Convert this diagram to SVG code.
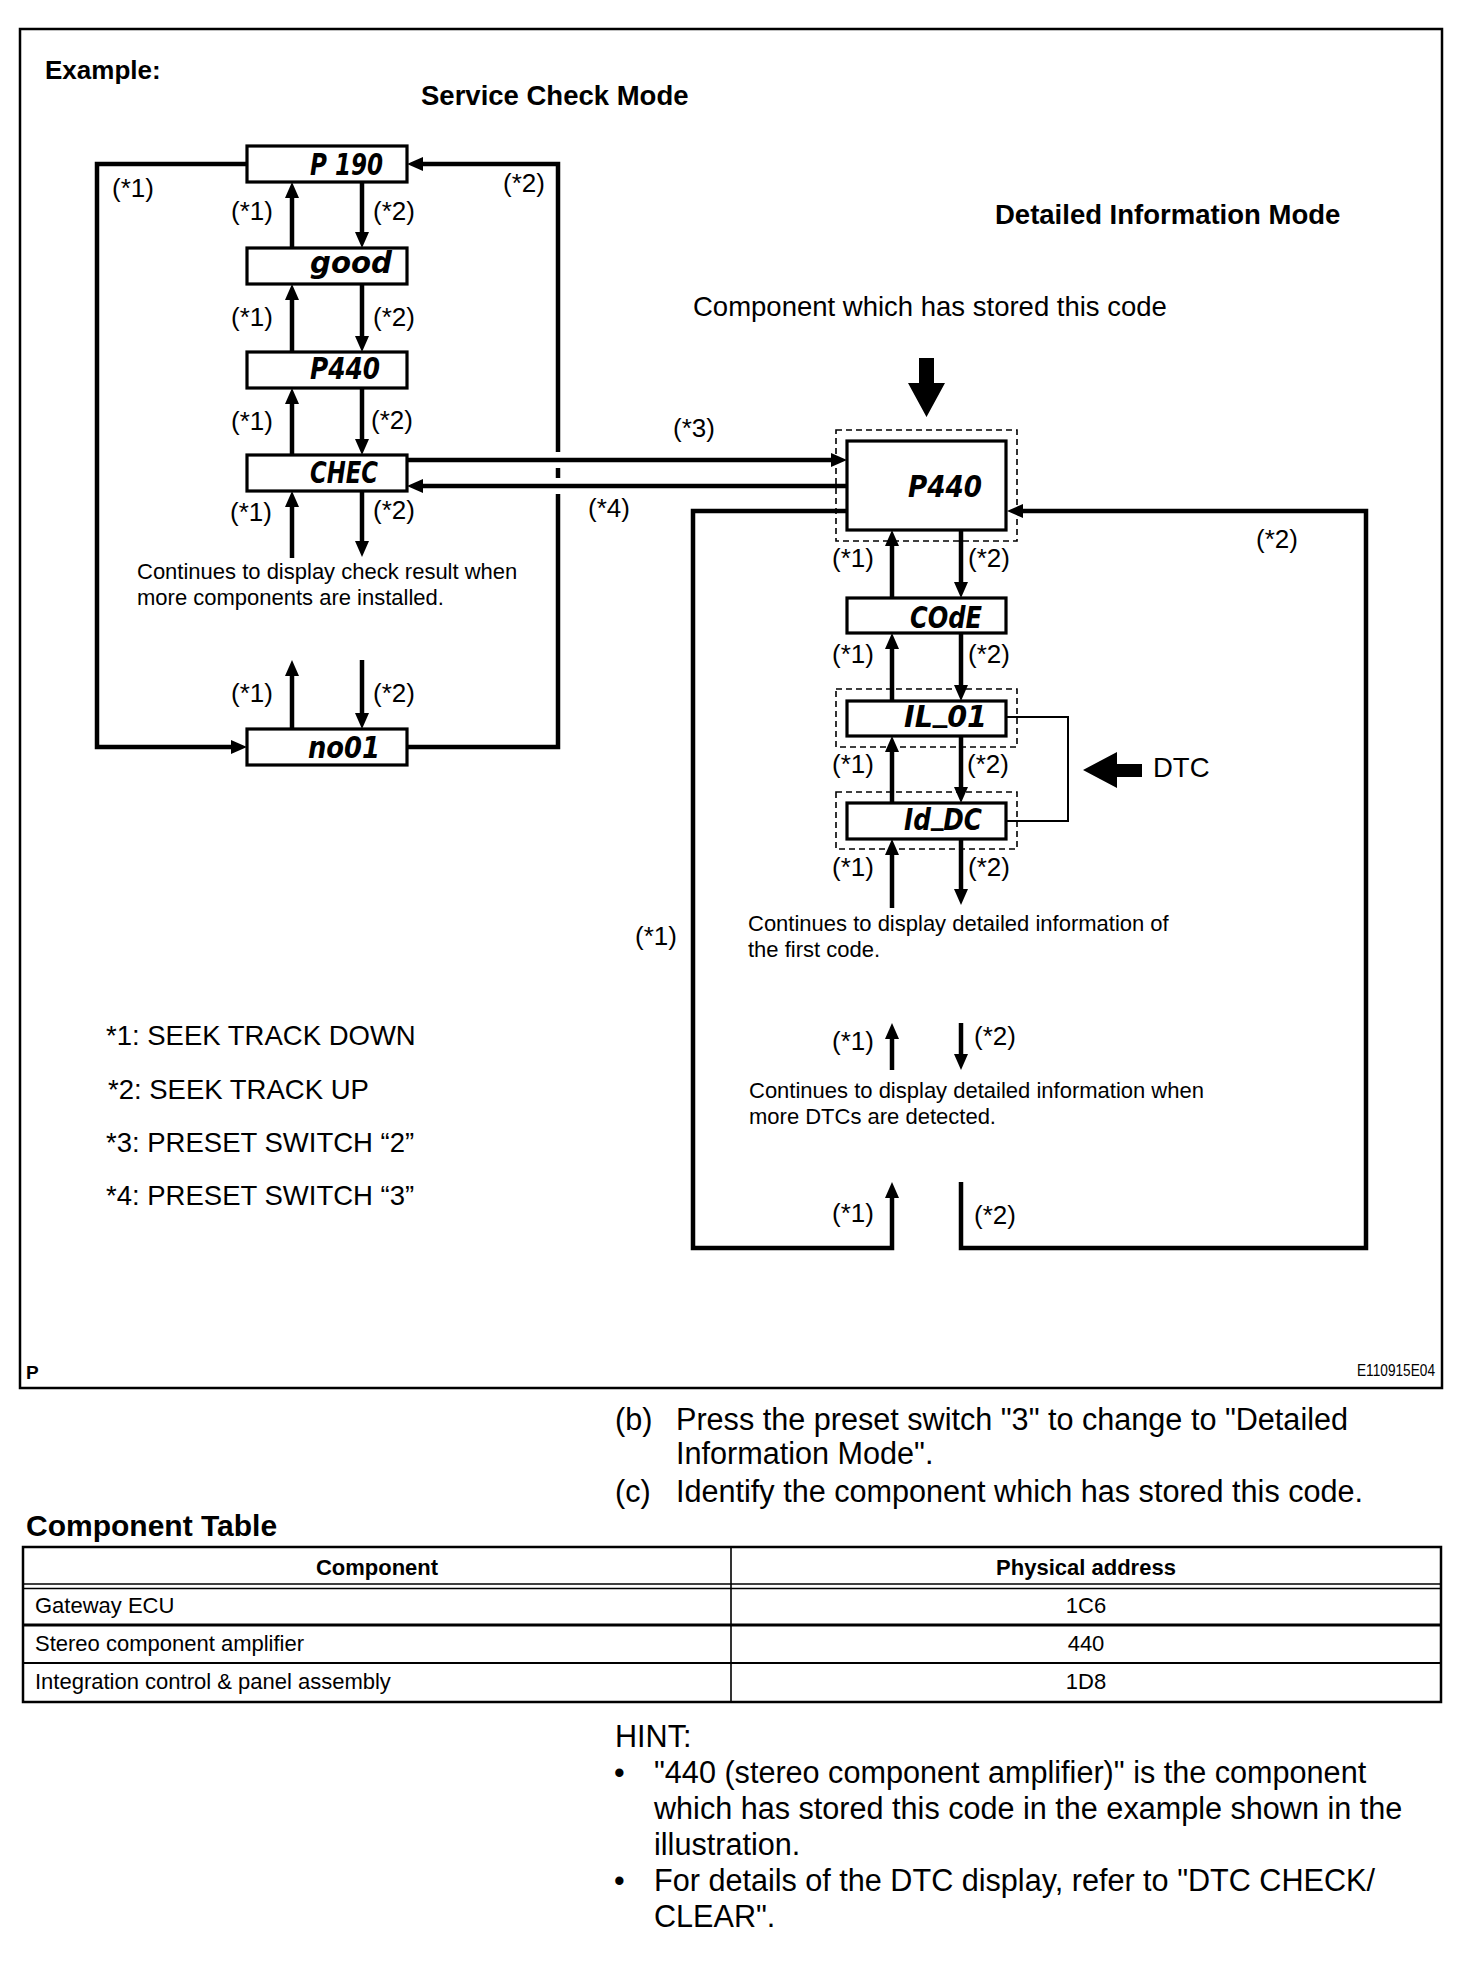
<svg xmlns="http://www.w3.org/2000/svg" width="1472" height="1980" viewBox="0 0 1472 1980">
<style>
.t{font-family:"Liberation Sans",Arial,sans-serif;fill:#000}
.b{font-weight:bold}
.lbl{font-size:26px}
.note{font-size:22px}
.big{font-size:27.5px}
.body{font-size:30.6px}
.cell{font-size:22px}
.lcd{font-family:"Liberation Sans Narrow","DejaVu Sans Condensed","Liberation Sans",sans-serif;font-style:italic;font-weight:bold;font-size:31px;fill:#000}
.box{fill:#fff;stroke:#000;stroke-width:3.2}
.dash{fill:none;stroke:#000;stroke-width:1.6;stroke-dasharray:6 4}
.conn{fill:none;stroke:#000;stroke-width:4.5}
.thin{fill:none;stroke:#000;stroke-width:2}
.frame{fill:none;stroke:#000;stroke-width:2.5}
</style>
<defs>
<marker id="ah" markerUnits="userSpaceOnUse" viewBox="0 0 16 14" markerWidth="16" markerHeight="14" refX="8" refY="7" orient="auto"><path d="M0,0 L16,7 L0,14 z" fill="#000"/></marker>
</defs>
<rect width="1472" height="1980" fill="#fff"/>
<rect class="frame" x="20" y="29" width="1422" height="1359"/>
<text class="t b" x="45" y="79" font-size="26">Example:</text>
<text class="t b big" x="421" y="105">Service Check Mode</text>
<text class="t b big" x="995" y="224">Detailed Information Mode</text>
<text class="t big" x="693" y="316">Component which has stored this code</text>

<g id="connectors">
<path class="conn" d="M247,164 H97 V747 H239" marker-end="url(#ah)"/>
<path class="conn" d="M407,747 H558 V494"/>
<path class="conn" d="M558,478 V468"/>
<path class="conn" d="M558,452 V164 H415" marker-end="url(#ah)"/>
<path class="conn" d="M292,248 V190" marker-end="url(#ah)"/>
<path class="conn" d="M362,182 V240" marker-end="url(#ah)"/>
<path class="conn" d="M292,352 V292" marker-end="url(#ah)"/>
<path class="conn" d="M362,284 V344" marker-end="url(#ah)"/>
<path class="conn" d="M292,455 V396" marker-end="url(#ah)"/>
<path class="conn" d="M362,388 V447" marker-end="url(#ah)"/>
<path class="conn" d="M292,558 V499" marker-end="url(#ah)"/>
<path class="conn" d="M362,491 V549" marker-end="url(#ah)"/>
<path class="conn" d="M292,729 V668" marker-end="url(#ah)"/>
<path class="conn" d="M362,660 V721" marker-end="url(#ah)"/>
<path class="conn" d="M407,460 H839" marker-end="url(#ah)"/>
<path class="conn" d="M847,486 H415" marker-end="url(#ah)"/>
<path class="conn" d="M847,511 H693 V1248 H892 V1190" marker-end="url(#ah)"/>
<path class="conn" d="M961,1182 V1248 H1366 V511 H1015" marker-end="url(#ah)"/>
<path class="conn" d="M892,598 V538" marker-end="url(#ah)"/>
<path class="conn" d="M961,530 V590" marker-end="url(#ah)"/>
<path class="conn" d="M892,701 V641" marker-end="url(#ah)"/>
<path class="conn" d="M961,633 V693" marker-end="url(#ah)"/>
<path class="conn" d="M892,803 V744" marker-end="url(#ah)"/>
<path class="conn" d="M961,736 V795" marker-end="url(#ah)"/>
<path class="conn" d="M892,908 V847" marker-end="url(#ah)"/>
<path class="conn" d="M961,839 V897" marker-end="url(#ah)"/>
<path class="conn" d="M892,1070 V1031" marker-end="url(#ah)"/>
<path class="conn" d="M961,1023 V1062" marker-end="url(#ah)"/>
<path class="thin" d="M1006,717 H1068 V821 H1006"/>
<polygon points="919,358 934,358 934,383 945,383 926.5,417 908,383 919,383" fill="#000"/>
<polygon points="1083,770 1117,752 1117,764 1142,764 1142,777 1117,777 1117,788" fill="#000"/>
</g>

<g id="labels">
<text class="t lbl" x="112" y="197">(*1)</text>
<text class="t lbl" x="503" y="192">(*2)</text>
<text class="t lbl" x="231" y="220">(*1)</text>
<text class="t lbl" x="373" y="220">(*2)</text>
<text class="t lbl" x="231" y="326">(*1)</text>
<text class="t lbl" x="373" y="326">(*2)</text>
<text class="t lbl" x="231" y="430">(*1)</text>
<text class="t lbl" x="371" y="429">(*2)</text>
<text class="t lbl" x="230" y="521">(*1)</text>
<text class="t lbl" x="373" y="519">(*2)</text>
<text class="t lbl" x="231" y="702">(*1)</text>
<text class="t lbl" x="373" y="702">(*2)</text>
<text class="t lbl" x="673" y="437">(*3)</text>
<text class="t lbl" x="588" y="517">(*4)</text>
<text class="t lbl" x="1256" y="548">(*2)</text>
<text class="t lbl" x="832" y="567">(*1)</text>
<text class="t lbl" x="968" y="567">(*2)</text>
<text class="t lbl" x="832" y="663">(*1)</text>
<text class="t lbl" x="968" y="663">(*2)</text>
<text class="t lbl" x="832" y="773">(*1)</text>
<text class="t lbl" x="967" y="773">(*2)</text>
<text class="t lbl" x="832" y="876">(*1)</text>
<text class="t lbl" x="968" y="876">(*2)</text>
<text class="t lbl" x="635" y="945">(*1)</text>
<text class="t lbl" x="832" y="1050">(*1)</text>
<text class="t lbl" x="974" y="1045">(*2)</text>
<text class="t lbl" x="832" y="1222">(*1)</text>
<text class="t lbl" x="974" y="1224">(*2)</text>
<text class="t big" x="1153" y="777">DTC</text>
<text class="t note" x="137" y="579">Continues to display check result when</text>
<text class="t note" x="137" y="605">more components are installed.</text>
<text class="t note" x="748" y="931">Continues to display detailed information of</text>
<text class="t note" x="748" y="957">the first code.</text>
<text class="t note" x="749" y="1098">Continues to display detailed information when</text>
<text class="t note" x="749" y="1124">more DTCs are detected.</text>
<text class="t big" x="106" y="1045">*1: SEEK TRACK DOWN</text>
<text class="t big" x="108" y="1099">*2: SEEK TRACK UP</text>
<text class="t big" x="106" y="1152">*3: PRESET SWITCH “2”</text>
<text class="t big" x="106" y="1205">*4: PRESET SWITCH “3”</text>
<text class="t b" x="26" y="1379" font-size="19">P</text>
<text class="t" x="1357" y="1376" font-size="17" textLength="78" lengthAdjust="spacingAndGlyphs">E110915E04</text>
</g>

<g id="node-p190"><rect class="box" x="247" y="146" width="160" height="36"/><text class="lcd" x="310" y="175" textLength="73" lengthAdjust="spacingAndGlyphs">P 190</text></g>
<g id="node-good"><rect class="box" x="247" y="248" width="160" height="36"/><text class="lcd" x="310" y="273" textLength="82" lengthAdjust="spacingAndGlyphs">good</text></g>
<g id="node-p440"><rect class="box" x="247" y="352" width="160" height="36"/><text class="lcd" x="310" y="379" textLength="70" lengthAdjust="spacingAndGlyphs">P440</text></g>
<g id="node-chec"><rect class="box" x="247" y="455" width="160" height="36"/><text class="lcd" x="310" y="483" textLength="68" lengthAdjust="spacingAndGlyphs">CHEC</text></g>
<g id="node-no01"><rect class="box" x="247" y="729" width="160" height="36"/><text class="lcd" x="308" y="758" textLength="72" lengthAdjust="spacingAndGlyphs">no01</text></g>

<g id="node-p440-detail"><rect class="dash" x="836" y="430" width="181" height="111"/><rect class="box" x="847" y="441" width="159" height="89"/><text class="lcd" x="908" y="497" textLength="74" lengthAdjust="spacingAndGlyphs">P440</text></g>
<g id="node-code"><rect class="box" x="847" y="598" width="159" height="35"/><text class="lcd" x="910" y="628" textLength="72" lengthAdjust="spacingAndGlyphs">COdE</text></g>
<g id="node-il01"><rect class="dash" x="836" y="689" width="181" height="58"/><rect class="box" x="847" y="701" width="159" height="35"/><text class="lcd" x="904" y="727" textLength="83" lengthAdjust="spacingAndGlyphs">IL<tspan dy="-6">_</tspan><tspan dy="6">01</tspan></text></g>
<g id="node-iddc"><rect class="dash" x="836" y="792" width="181" height="57"/><rect class="box" x="847" y="803" width="159" height="36"/><text class="lcd" x="904" y="830" textLength="78" lengthAdjust="spacingAndGlyphs">Id<tspan dy="-6">_</tspan><tspan dy="6">DC</tspan></text></g>

<g id="steps">
<text class="t body" x="615" y="1430">(b)</text>
<text class="t body" x="676" y="1430">Press the preset switch "3" to change to "Detailed</text>
<text class="t body" x="676" y="1464">Information Mode".</text>
<text class="t body" x="615" y="1502">(c)</text>
<text class="t body" x="676" y="1502">Identify the component which has stored this code.</text>
<text class="t b" x="26" y="1536" font-size="30">Component Table</text>
</g>

<g id="component-table">
<rect x="23" y="1547" width="1418" height="155" fill="none" stroke="#000" stroke-width="2.5"/>
<line x1="23" y1="1584" x2="1441" y2="1584" stroke="#000" stroke-width="1.6"/>
<line x1="23" y1="1588.5" x2="1441" y2="1588.5" stroke="#000" stroke-width="1.6"/>
<line x1="23" y1="1625" x2="1441" y2="1625" stroke="#000" stroke-width="3"/>
<line x1="23" y1="1663" x2="1441" y2="1663" stroke="#000" stroke-width="2"/>
<line x1="731" y1="1547" x2="731" y2="1702" stroke="#000" stroke-width="1.6"/>
<text class="t b cell" x="377" y="1575" text-anchor="middle">Component</text>
<text class="t b cell" x="1086" y="1575" text-anchor="middle">Physical address</text>
<text class="t cell" x="35" y="1613">Gateway ECU</text>
<text class="t cell" x="1086" y="1613" text-anchor="middle">1C6</text>
<text class="t cell" x="35" y="1651">Stereo component amplifier</text>
<text class="t cell" x="1086" y="1651" text-anchor="middle">440</text>
<text class="t cell" x="35" y="1689">Integration control &amp; panel assembly</text>
<text class="t cell" x="1086" y="1689" text-anchor="middle">1D8</text>
</g>

<g id="hint">
<text class="t body" x="615" y="1747">HINT:</text>
<text class="t body" x="614" y="1783">•</text>
<text class="t body" x="654" y="1783">"440 (stereo component amplifier)" is the component</text>
<text class="t body" x="654" y="1819">which has stored this code in the example shown in the</text>
<text class="t body" x="654" y="1855">illustration.</text>
<text class="t body" x="614" y="1891">•</text>
<text class="t body" x="654" y="1891">For details of the DTC display, refer to "DTC CHECK/</text>
<text class="t body" x="654" y="1927">CLEAR".</text>
</g>
</svg>
